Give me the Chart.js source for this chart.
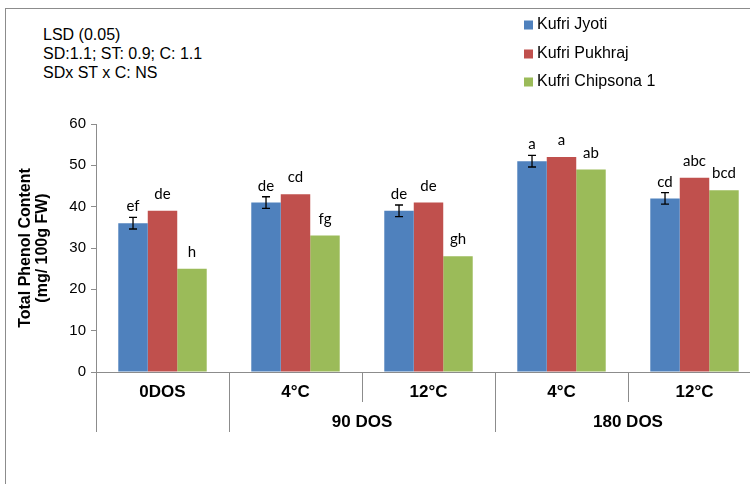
<!DOCTYPE html>
<html>
<head>
<meta charset="utf-8">
<script src="https://cdn.jsdelivr.net/npm/chart.js@4"></script>
<style>
  html, body { margin: 0; padding: 0; overflow: hidden; background: #fff; }
  #frame { position: absolute; left: 5px; top: 8px; width: 900px; height: 700px;
           border-left: 1px solid #8c8c8c; border-top: 1px solid #8c8c8c; }
  #lsd { position: absolute; left: 43px; top: 25px; font: 16px "Liberation Sans", Arial, sans-serif;
         line-height: 19px; color: #000; }
  #wrap { position: absolute; left: 0; top: 0; width: 761px; height: 484px; }
</style>
</head>
<body>
<div id="frame"></div>
<div id="lsd">LSD (0.05)<br>SD:1.1; ST: 0.9; C: 1.1<br>SDx ST x C: NS</div>
<div id="wrap"><canvas id="phenolChart"></canvas></div>
<script>
// values
const categories = ['0DOS', '4°C', '12°C', '4°C', '12°C'];
const groupLabels = ['', '90 DOS', '180 DOS'];
const groupSpans = [1, 2, 2];

const seriesNames = ['Kufri Jyoti', 'Kufri Pukhraj', 'Kufri Chipsona 1'];
const kufriJyoti = [36, 41, 39, 51, 42];
const kufriPukhraj = [39, 43, 41, 52, 47];
const kufriChipsona = [25, 33, 28, 49, 44];
const jyotiError = [1.4, 1.4, 1.4, 1.4, 1.4];

const jyotiLetters = ['ef', 'de', 'de', 'a', 'cd'];
const pukhrajLetters = ['de', 'cd', 'de', 'a', 'abc'];
const chipsonaLetters = ['h', 'fg', 'gh', 'ab', 'bcd'];

const yMin = 0;
const yMax = 60;
const yStep = 10;

const colors = ['#4F81BD', '#C0504D', '#9BBB59'];
const axisGray = '#8c8c8c';
const sans = '"Liberation Sans", Arial, sans-serif';

const letters = [jyotiLetters, pukhrajLetters, chipsonaLetters];
const errors = [jyotiError, null, null];

const extrasPlugin = {
    id: 'extras',
    afterDatasetsDraw(chart) {
        const ctx = chart.ctx;
        const x = chart.scales.x;
        const y = chart.scales.y;

        // error bars
        ctx.save();
        ctx.strokeStyle = '#000';
        ctx.lineWidth = 1.3;
        chart.data.datasets.forEach((ds, di) => {
            const err = errors[di];
            if (!err) return;
            const meta = chart.getDatasetMeta(di);
            meta.data.forEach((bar, i) => {
                const v = ds.data[i];
                const top = y.getPixelForValue(v + err[i]);
                const bot = y.getPixelForValue(v - err[i]);
                ctx.beginPath();
                ctx.moveTo(bar.x, top); ctx.lineTo(bar.x, bot);
                ctx.moveTo(bar.x - 4, top); ctx.lineTo(bar.x + 4, top);
                ctx.moveTo(bar.x - 4, bot); ctx.lineTo(bar.x + 4, bot);
                ctx.stroke();
            });
        });

        // significance letters
        ctx.fillStyle = '#000';
        ctx.font = '15px Lato, sans-serif';
        ctx.textAlign = 'center';
        ctx.textBaseline = 'middle';
        chart.data.datasets.forEach((ds, di) => {
            const meta = chart.getDatasetMeta(di);
            meta.data.forEach((bar, i) => {
                ctx.fillText(letters[di][i], bar.x, bar.y - 16.7);
            });
        });
        ctx.restore();
    },
    afterDraw(chart) {
        const ctx = chart.ctx;
        const x = chart.scales.x;
        const step = (x.right - x.left) / categories.length;
        const base = x.top;

        // category separators and group labels
        ctx.save();
        ctx.strokeStyle = axisGray;
        ctx.lineWidth = 1;
        const groupEdges = [0];
        groupSpans.forEach(s => groupEdges.push(groupEdges[groupEdges.length - 1] + s));
        for (let i = 0; i <= categories.length; i++) {
            const px = Math.round(x.left + i * step) + 0.5;
            const long = groupEdges.includes(i);
            ctx.beginPath();
            ctx.moveTo(px, base);
            ctx.lineTo(px, base + (long ? 60 : 30));
            ctx.stroke();
        }
        ctx.fillStyle = '#000';
        ctx.font = 'bold 17px ' + sans;
        ctx.textAlign = 'center';
        ctx.textBaseline = 'middle';
        groupLabels.forEach((lab, g) => {
            const cx = x.left + (groupEdges[g] + groupEdges[g + 1]) / 2 * step;
            ctx.fillText(lab, cx, base + 50);
        });

        // legend
        ctx.font = '16px ' + sans;
        ctx.textAlign = 'left';
        const rows = [25, 54, 82];
        chart.data.datasets.forEach((ds, di) => {
            ctx.fillStyle = ds.backgroundColor;
            ctx.fillRect(524, rows[di] - 4.5, 9, 9);
            ctx.fillStyle = '#000';
            ctx.fillText(ds.label, 537, rows[di]);
        });
        ctx.restore();
    }
};

const seriesData = [kufriJyoti, kufriPukhraj, kufriChipsona];

new Chart(document.getElementById('phenolChart'), {
    type: 'bar',
    data: {
        labels: categories,
        datasets: seriesNames.map((name, i) => ({
            label: name,
            data: seriesData[i],
            backgroundColor: colors[i],
            borderWidth: 0,
            categoryPercentage: 0.665,
            barPercentage: 1.0,
        })),
    },
    options: {
        responsive: true,
        maintainAspectRatio: false,
        animation: false,
        layout: { padding: { top: 124, left: 0, right: 0, bottom: 0 } },
        plugins: {
            legend: { display: false },
            tooltip: { enabled: false },
        },
        scales: {
            x: {
                grid: { display: true, drawOnChartArea: false, drawTicks: false },
                border: { color: axisGray, width: 1 },
                ticks: {
                    color: '#000',
                    padding: 10,
                    font: { family: sans, size: 17, weight: 'bold' },
                },
                afterFit(scale) { scale.height = 112; },
            },
            y: {
                min: yMin,
                max: yMax,
                ticks: {
                    stepSize: yStep,
                    color: '#000',
                    padding: 5,
                    font: { family: sans, size: 15 },
                },
                grid: { drawOnChartArea: false, drawTicks: true, tickLength: 5, tickColor: axisGray },
                border: { color: axisGray, width: 1 },
                title: {
                    display: true,
                    text: ['Total Phenol Content', '(mg/ 100g FW)'],
                    color: '#000',
                    font: { family: sans, size: 16, weight: 'bold', lineHeight: 1.05 },
                    padding: { top: 17, bottom: 0 },
                },
                afterFit(scale) { scale.width = 96; },
            },
        },
    },
    plugins: [extrasPlugin],
});
</script>
</body>
</html>
